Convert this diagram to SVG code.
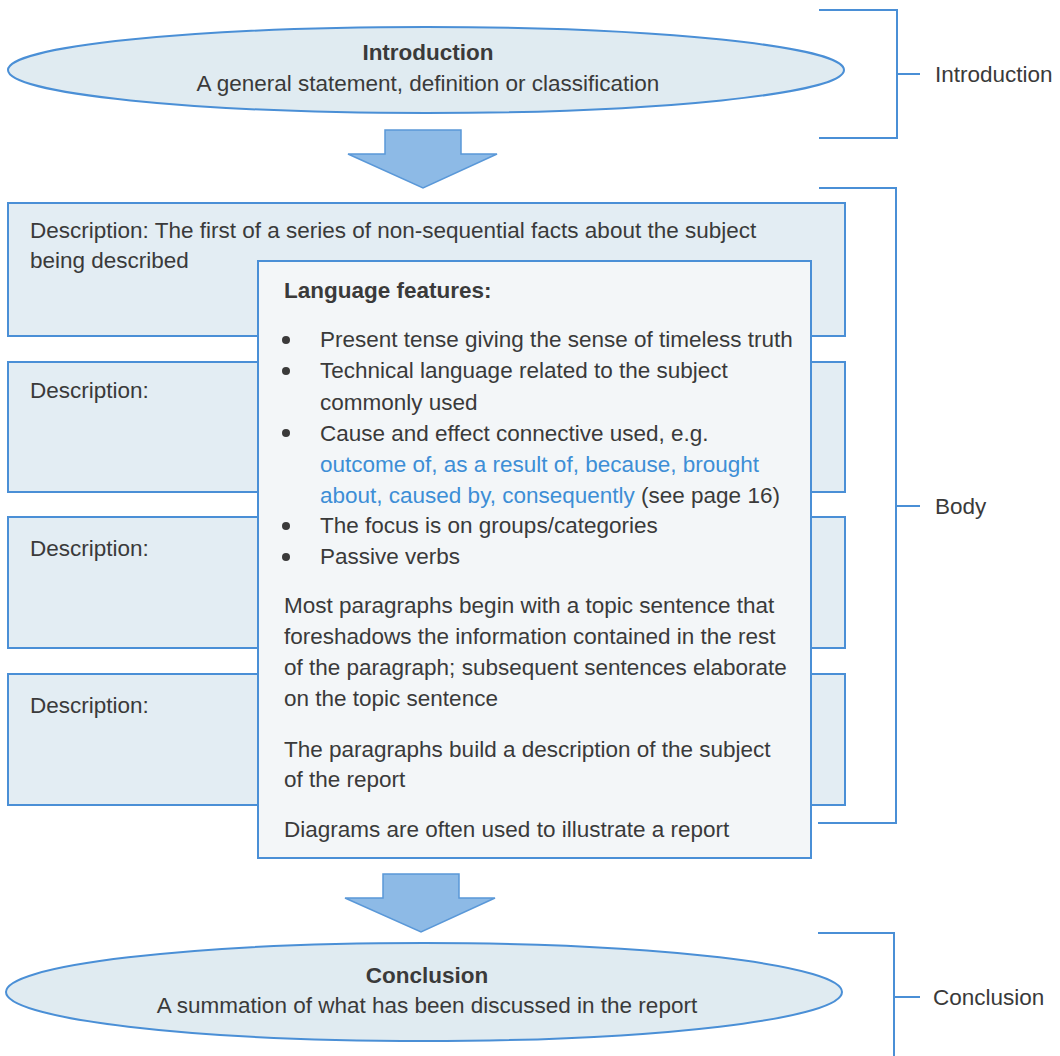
<svg xmlns="http://www.w3.org/2000/svg" width="1060" height="1056" viewBox="0 0 1060 1056">
<style>
.t{font-family:"Liberation Sans",Arial,sans-serif;font-size:22.5px;fill:#3a3a3a}
.b{font-weight:bold}
.blue{fill:#3d8ed6}
.box{fill:#e3edf3;stroke:#4a8fd6;stroke-width:2}
.ell{fill:#e0ebf1;stroke:#4a8fd6;stroke-width:2}
.arr{fill:#8dbae6;stroke:#5a98d8;stroke-width:1.5}
.br{fill:none;stroke:#4a8fd6;stroke-width:2}
</style>
<rect width="1060" height="1056" fill="#ffffff"/>
<g id="intro">
<ellipse class="ell" cx="426" cy="70" rx="418" ry="43"/>
<text class="t b" x="428" y="60" text-anchor="middle">Introduction</text>
<text class="t" x="428" y="91" text-anchor="middle">A general statement, definition or classification</text>
</g>
<g id="connectors">
<polygon class="arr" points="385,130 461,130 461,154 497,154 423,188 348,154 385,154"/>
<polygon class="arr" points="383,874 459,874 459,898 495,898 421,932 345,898 383,898"/>
</g>
<g id="desc1">
<rect class="box" x="8" y="203" width="837" height="133"/>
<text class="t" x="30" y="238">Description: The first of a series of non-sequential facts about the subject</text>
<text class="t" x="30" y="268">being described</text>
</g>
<g id="desc2">
<rect class="box" x="8" y="362" width="837" height="130"/>
<text class="t" x="30" y="398">Description:</text>
</g>
<g id="desc3">
<rect class="box" x="8" y="517" width="837" height="131"/>
<text class="t" x="30" y="556">Description:</text>
</g>
<g id="desc4">
<rect class="box" x="8" y="674" width="837" height="131"/>
<text class="t" x="30" y="713">Description:</text>
</g>
<g id="language">
<rect x="258" y="261" width="553" height="597" fill="#f3f6f8" stroke="#4a8fd6" stroke-width="2"/>
<text class="t b" x="284" y="298">Language features:</text>
<g fill="#3a3a3a">
<circle cx="286" cy="340" r="4"/>
<circle cx="286" cy="371" r="4"/>
<circle cx="286" cy="433" r="4"/>
<circle cx="286" cy="526" r="4"/>
<circle cx="286" cy="557" r="4"/>
</g>
<text class="t" x="320" y="347">Present tense giving the sense of timeless truth</text>
<text class="t" x="320" y="378">Technical language related to the subject</text>
<text class="t" x="320" y="410">commonly used</text>
<text class="t" x="320" y="441">Cause and effect connective used, e.g.</text>
<text class="t blue" x="320" y="472">outcome of, as a result of, because, brought</text>
<text class="t" x="320" y="503"><tspan class="blue">about, caused by, consequently</tspan> (see page 16)</text>
<text class="t" x="320" y="533">The focus is on groups/categories</text>
<text class="t" x="320" y="564">Passive verbs</text>
<text class="t" x="284" y="613">Most paragraphs begin with a topic sentence that</text>
<text class="t" x="284" y="644">foreshadows the information contained in the rest</text>
<text class="t" x="284" y="675">of the paragraph; subsequent sentences elaborate</text>
<text class="t" x="284" y="706">on the topic sentence</text>
<text class="t" x="284" y="757">The paragraphs build a description of the subject</text>
<text class="t" x="284" y="787">of the report</text>
<text class="t" x="284" y="837">Diagrams are often used to illustrate a report</text>
</g>
<g id="conclusion">
<ellipse class="ell" cx="424" cy="992" rx="418" ry="49"/>
<text class="t b" x="427" y="983" text-anchor="middle">Conclusion</text>
<text class="t" x="427" y="1013" text-anchor="middle">A summation of what has been discussed in the report</text>
</g>
<g id="brackets">
<path class="br" d="M819,10 H897 V138 H819 M897,74 H920"/>
<path class="br" d="M819,188 H896 V823 H818 M896,506 H920"/>
<path class="br" d="M818,933 H894 V1056 M894,997 H920"/>
<text class="t" x="935" y="82">Introduction</text>
<text class="t" x="935" y="514">Body</text>
<text class="t" x="933" y="1005">Conclusion</text>
</g>
</svg>
